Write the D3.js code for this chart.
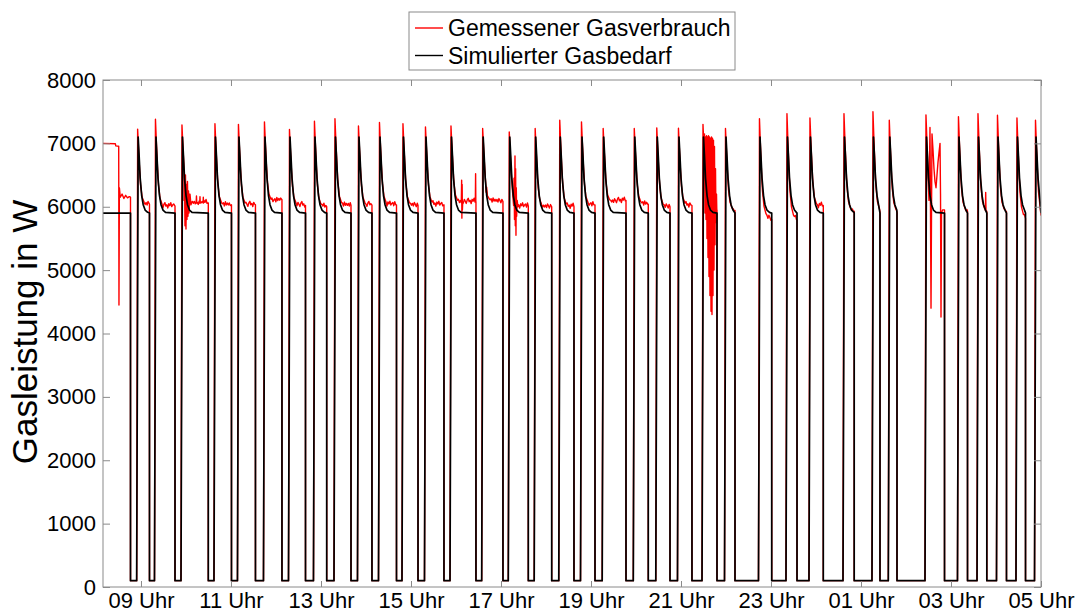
<!DOCTYPE html>
<html>
<head>
<meta charset="utf-8">
<script src="https://cdn.jsdelivr.net/npm/d3@7/dist/d3.min.js"></script>
<style>
	body { margin: 0; background: #fff; }
	text { font-family: "Liberation Sans", Arial, Helvetica, sans-serif; }
</style>
</head>
<body>
<div id="contentpane"></div>
<script>
//////////
// Data //
//////////

// Time in hours from midnight of the first day (25 = 01 Uhr next day)
var xDomain = [8.156, 29];
var xTicks = [9, 11, 13, 15, 17, 19, 21, 23, 25, 27, 29];
var xTickLabels = ["09 Uhr", "11 Uhr", "13 Uhr", "15 Uhr", "17 Uhr", "19 Uhr", "21 Uhr", "23 Uhr", "01 Uhr", "03 Uhr", "05 Uhr"];
var yTicks = [0, 1000, 2000, 3000, 4000, 5000, 6000, 7000, 8000];

// Burner switch on / switch off times
var onTimes = [8.904, 9.300, 9.889, 10.622, 11.144, 11.722, 12.278, 12.833, 13.289, 13.811,
	14.278, 14.800, 15.300, 15.867, 16.571, 17.162, 17.738, 18.284, 18.767, 19.249,
	19.940, 20.440, 20.922, 21.467, 21.967, 22.722, 23.333, 23.844, 24.600, 25.244,
	25.607, 26.422, 27.144, 27.578, 28.011, 28.444, 28.856];
var offTimes = [9.189, 9.756, 10.496, 11.011, 11.544, 12.133, 12.656, 13.127, 13.667, 14.133,
	14.678, 15.156, 15.733, 16.444, 17.044, 17.607, 18.127, 18.622, 19.089, 19.778,
	20.273, 20.756, 21.244, 21.800, 22.200, 23.016, 23.578, 24.162, 24.849, 25.422,
	25.800, 26.856, 27.367, 27.796, 28.233, 28.656, null];

// Measured gas use per cycle (W)
var measPeak = [7225, 7380, 7290, 7310, 7300, 7340, 7220, 7350, 7390, 7275,
	7330, 7310, 7260, 7275, 7235, 7180, 7235, 7365, 7340, 7235,
	7235, 7245, 7240, 7300, 7235, 7390, 7470, 7400, 7470, 7500,
	7365, 7450, 7420, 7470, 7445, 7400, 7365];
var measPlatStart = [6025, 6000, 6050, 6025, 6020, 6060, 6030, 6000, 6030, 6025,
	6040, 6030, 6040, 6060, 6100, 6000, 5990, 6000, 6025, 6060,
	6050, 6000, 6025, 5950, 5950, 5900, 5880, 5990, 5930, 5920,
	5920, 5950, 5930, 5930, 5920, 5880, 5870];
var measPlatEnd = [6040, 6010, 6060, 6030, 6030, 6110, 6020, 6000, 6020, 6025,
	6030, 6020, 6030, 6080, 6080, 6010, 6000, 6000, 6030, 6100,
	6040, 6000, 6020, 5950, 5940, 5800, 5790, 6020, 5930, 5920,
	5920, 5950, 5930, 5930, 5920, 5815, 5860];

// Simulated demand (W)
var simPeak = 7100;
var simPlateau = 5900;
var offLevel = 100;

// Burner already running at the left edge
var simStart = [[8.156, 5900], [8.767, 5900]];
var measStart = [[8.156, 7000], [8.43, 6995], [8.44, 6960], [8.505, 6955], [8.511, 4450],
	[8.52, 6300], [8.54, 6150], [8.58, 6200], [8.62, 6130], [8.66, 6180],
	[8.70, 6140], [8.74, 6160], [8.767, 6150]];

// Start-up transient: minutes after switch on, share of (peak - plateau)
var simProfileMin = [2, 3.3, 4.7, 6.7, 8.7, 11.3, 14.7];
var simProfileFrac = [1, 0.75, 0.46, 0.23, 0.11, 0.04, 0.01];
var measProfileMin = [1.3, 2.7, 4, 5.3, 7.3, 10];
var measProfileFrac = [1, 0.7, 0.45, 0.25, 0.1, 0.03];

// Typical fluctuation of the measured signal on the plateau (W)
var ripple = [0, 30, -10, 45, 15, -20, 35, 60, 5, 25, -25, 40, 10, 55, -5, 20, 35, -15, 50, 0, 30];

// Disturbances in the measured signal
var measSpikes = [
	[[9.956, 6100], [9.967, 6450], [9.978, 5700], [9.989, 6500], [10.0, 5650], [10.011, 6350],
	 [10.022, 5800], [10.033, 6400], [10.044, 5850], [10.056, 6250], [10.067, 5900], [10.089, 6200], [10.111, 6030]],
	[[10.225, 6060], [10.233, 6170], [10.24, 6060]],
	[[10.305, 6060], [10.311, 6160], [10.318, 6060]],
	[[10.38, 6060], [10.385, 6150], [10.39, 6060]],
	[[16.118, 6065], [16.126, 6420], [16.131, 5820], [16.137, 6350], [16.142, 5950], [16.15, 6070]],
	[[16.43, 6080], [16.436, 6520], [16.441, 6080]],
	[[16.668, 6230], [16.681, 6310], [16.70, 6170]],
	[[17.28, 6020], [17.29, 6450], [17.30, 5800], [17.311, 6800], [17.318, 5700], [17.325, 6600],
	 [17.333, 5550], [17.34, 6300], [17.348, 5850], [17.36, 6100], [17.375, 6000]],
	[[21.522, 7150], [21.533, 5900], [21.544, 7100], [21.556, 5800], [21.567, 7120], [21.578, 5500],
	 [21.589, 7100], [21.600, 5200], [21.611, 7120], [21.622, 4900], [21.633, 7100], [21.644, 4600],
	 [21.656, 7080], [21.667, 4350], [21.678, 7100], [21.689, 4300], [21.700, 7080], [21.711, 4600],
	 [21.722, 7050], [21.733, 5000], [21.744, 6950], [21.756, 5400], [21.767, 6600], [21.778, 5750],
	 [21.789, 6200], [21.796, 5950]],
	[[26.467, 7000], [26.489, 6500], [26.511, 6100], [26.533, 7250], [26.544, 6000], [26.556, 4400],
	 [26.567, 5900], [26.578, 7150], [26.600, 6900], [26.622, 6600], [26.644, 6400], [26.667, 6300],
	 [26.689, 6500], [26.711, 6700], [26.733, 6850], [26.756, 7000], [26.767, 6200], [26.778, 4260],
	 [26.789, 5900], [26.811, 5950], [26.844, 5950]],
	[[27.765, 5940], [27.771, 6225], [27.778, 5940]]
];

var seriesNames = ["Gemessener Gasverbrauch", "Simulierter Gasbedarf"];
var seriesColors = ["#ff0000", "#000000"];

///////////////
// Functions //
///////////////

// Simulated demand: step up, decay to plateau, step down
function buildSim(){
	var pts = simStart.slice();
	pts.push([simStart[simStart.length - 1][0], offLevel]);
	onTimes.forEach(function(on, i){
		var off = offTimes[i] == null ? xDomain[1] : offTimes[i];
		pts.push([on, offLevel]);
		simProfileMin.forEach(function(m, j){
			var t = on + m / 60;
			if (t < off) pts.push([t, simPlateau + simProfileFrac[j] * (simPeak - simPlateau)]);
		});
		pts.push([off, simPlateau]);
		if (offTimes[i] != null) pts.push([off, offLevel]);
	});
	return pts;
}

// Measured use: same cycles with own peaks, plateau and disturbances
function buildMeas(){
	var pts = measStart.slice();
	pts.push([measStart[measStart.length - 1][0], offLevel]);
	var k = 0;
	onTimes.forEach(function(on, i){
		var off = offTimes[i] == null ? xDomain[1] : offTimes[i];
		var plat = function(t){ return measPlatStart[i] + (measPlatEnd[i] - measPlatStart[i]) * (t - on) / (off - on); };
		var cyc = [];
		measProfileMin.forEach(function(m, j){
			var t = on + m / 60;
			if (t < off) cyc.push([t, plat(t) + measProfileFrac[j] * (measPeak[i] - plat(t))]);
		});
		for (var t = on + 11.3 / 60; t < off - 0.5 / 60; t += 1.3 / 60){
			cyc.push([t, plat(t) + ripple[k % ripple.length]]);
			k++;
		}
		// disturbances replace the regular points in their span
		measSpikes.forEach(function(s){
			var t0 = s[0][0], t1 = s[s.length - 1][0];
			if (t0 >= on && t0 <= off){
				cyc = cyc.filter(function(p){ return p[0] < t0 || p[0] > t1; });
				cyc = cyc.concat(s);
			}
		});
		cyc.sort(function(a, b){ return a[0] - b[0]; });
		pts.push([on, offLevel]);
		pts = pts.concat(cyc);
		pts.push([off, measPlatEnd[i]]);
		if (offTimes[i] != null) pts.push([off, offLevel]);
	});
	return pts;
}

///////////////////
// Initial setup //
///////////////////

var width = 1080;
var height = 614;
var svg = d3.select("#contentpane").append("svg")
	.attr("width", width).attr("height", height);

var x = d3.scaleLinear().domain(xDomain).range([103, 1041]);
var y = d3.scaleLinear().domain([0, 8000]).range([587, 80]);

var axisColor = "#8a8a8a";

// Clip to plot area
svg.append("clipPath").attr("id", "plotclip")
	.append("rect").attr("x", 103).attr("y", 80).attr("width", 938).attr("height", 507);

// Lines
var line = d3.line()
	.x(function(d) { return x(d[0]); })
	.y(function(d) { return y(d[1]); });

var plot = svg.append("g").attr("clip-path", "url(#plotclip)");
plot.append("path").datum(buildMeas())
	.attr("fill", "none").attr("stroke", seriesColors[0]).attr("stroke-width", 1.4)
	.attr("stroke-linejoin", "round")
	.attr("d", line);
plot.append("path").datum(buildSim())
	.attr("fill", "none").attr("stroke", seriesColors[1]).attr("stroke-width", 1.7)
	.attr("stroke-linejoin", "round")
	.attr("d", line);

// Axes (ticks point inward)
function styleAxis(g){
	g.select(".domain").remove();
	g.selectAll(".tick line").attr("stroke", axisColor);
	g.selectAll(".tick text").attr("fill", "#000").style("font-size", "22px");
}

svg.append("g").attr("transform", "translate(0,587)")
	.call(d3.axisBottom(x).tickValues(xTicks).tickSizeInner(-6).tickSizeOuter(0).tickPadding(5)
		.tickFormat(function(d, i) { return xTickLabels[i]; }))
	.call(styleAxis);
svg.append("g").attr("transform", "translate(0,80)")
	.call(d3.axisTop(x).tickValues(xTicks).tickSizeInner(-6).tickSizeOuter(0).tickFormat(""))
	.call(styleAxis);
svg.append("g").attr("transform", "translate(103,0)")
	.call(d3.axisLeft(y).tickValues(yTicks).tickSizeInner(-7).tickSizeOuter(0).tickPadding(7)
		.tickFormat(d3.format("d")))
	.call(styleAxis);
svg.append("g").attr("transform", "translate(1041,0)")
	.call(d3.axisRight(y).tickValues(yTicks).tickSizeInner(-7).tickSizeOuter(0).tickFormat(""))
	.call(styleAxis);

// Frame
svg.append("rect")
	.attr("x", 103).attr("y", 80).attr("width", 938).attr("height", 507)
	.attr("fill", "none").attr("stroke", axisColor).attr("stroke-width", 1);

// Y label
svg.append("text")
	.attr("transform", "translate(37,332) rotate(-90)")
	.attr("text-anchor", "middle")
	.style("font-size", "35px")
	.text("Gasleistung in W");

// Legend
var legend = svg.append("g");
legend.append("rect")
	.attr("x", 409).attr("y", 12).attr("width", 326).attr("height", 58)
	.attr("fill", "#fff").attr("stroke", axisColor);
seriesNames.forEach(function(name, i){
	var ly = 28 + i * 27.5;
	legend.append("line")
		.attr("x1", 415).attr("x2", 443).attr("y1", ly).attr("y2", ly)
		.attr("stroke", seriesColors[i]).attr("stroke-width", 1.4);
	legend.append("text")
		.attr("x", 448).attr("y", ly + 8.3)
		.style("font-size", "23px")
		.text(name);
});
</script>
</body>
</html>
